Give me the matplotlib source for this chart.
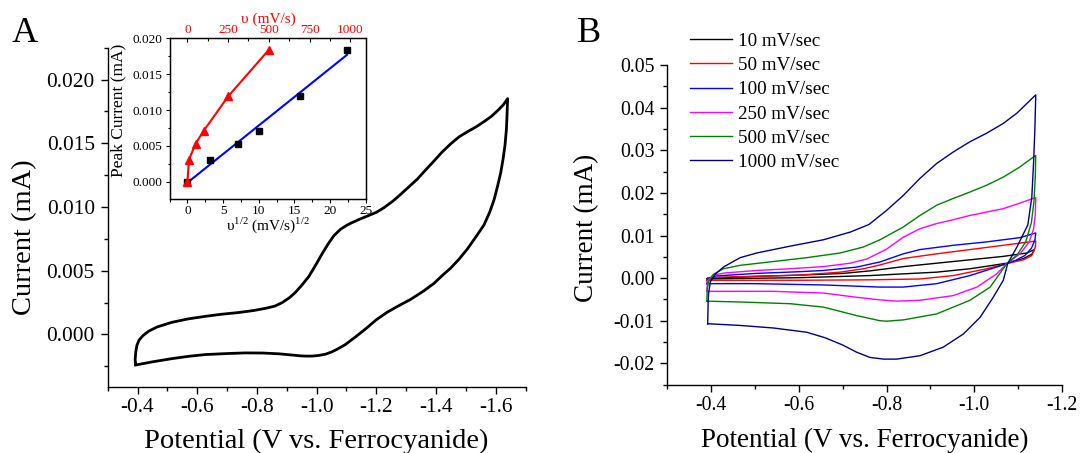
#!/usr/bin/env python3
import numpy as np
import matplotlib
matplotlib.use('Agg')
from matplotlib import pyplot as plt
from matplotlib.ticker import MultipleLocator, FormatStrFormatter

plt.rcParams['font.family'] = ['Liberation Serif', 'DejaVu Serif']
plt.rcParams['mathtext.fontset'] = 'custom'
plt.rcParams['mathtext.rm'] = 'Liberation Serif'
plt.rcParams['axes.unicode_minus'] = False

# Panel A: single CV loop (V vs. ferrocyanide, mA)
cv_a_e = [-0.394, -0.392, -0.394, -0.398, -0.405, -0.418, -0.437, -0.465, -0.515, -0.570,
          -0.627, -0.680, -0.739, -0.790, -0.829, -0.860, -0.885, -0.910, -0.929, -0.950,
          -0.974, -0.997, -1.019, -1.040, -1.058, -1.080, -1.100, -1.114, -1.140, -1.170,
          -1.200, -1.226, -1.255, -1.282, -1.310, -1.338, -1.365, -1.393, -1.420, -1.449,
          -1.477, -1.505, -1.535, -1.561, -1.585, -1.606, -1.625, -1.640,
          -1.638, -1.636, -1.631, -1.625, -1.617, -1.607, -1.595, -1.580, -1.561, -1.535,
          -1.505, -1.477, -1.449, -1.420, -1.393, -1.355, -1.315, -1.275, -1.237, -1.200,
          -1.165, -1.130, -1.096, -1.070, -1.050, -1.030, -1.007, -0.985, -0.963, -0.945,
          -0.920, -0.873, -0.820, -0.761, -0.700, -0.627, -0.570, -0.515, -0.450, -0.394]
cv_a_i = [-0.00235, -0.00200, -0.00140, -0.00085, -0.00045, -0.00010, 0.00025, 0.00058,
          0.00095, 0.00122, 0.00142, 0.00158, 0.00172, 0.00188, 0.00205, 0.00222, 0.00250,
          0.00290, 0.00330, 0.00385, 0.00455, 0.00545, 0.00635, 0.00715, 0.00775, 0.00825,
          0.00855, 0.00872, 0.00900, 0.00929, 0.00958, 0.00995, 0.01045, 0.01100, 0.01160,
          0.01220, 0.01290, 0.01360, 0.01430, 0.01495, 0.01550, 0.01590, 0.01630, 0.01670,
          0.01710, 0.01755, 0.01800, 0.01850,
          0.01720, 0.01610, 0.01480, 0.01380, 0.01270, 0.01170, 0.01060, 0.00960, 0.00860,
          0.00770, 0.00670, 0.00590, 0.00520, 0.00460, 0.00400, 0.00335, 0.00275, 0.00225,
          0.00175, 0.00115, 0.00045, -0.00020, -0.00080, -0.00115, -0.00138, -0.00155,
          -0.00165, -0.00170, -0.00170, -0.00168, -0.00162, -0.00152, -0.00146, -0.00145,
          -0.00150, -0.00158, -0.00172, -0.00190, -0.00215, -0.00240]

# Inset: peak current vs scan rate
scan_rate = np.array([0, 10, 50, 100, 250, 500])
peak_current = np.array([0.0, 0.0031, 0.0053, 0.0071, 0.0119, 0.0184])

# Panel B: CVs at several scan rates
e_10 = [-0.390, -0.392, -0.410, -0.500, -0.600, -0.700, -0.762, -0.838, -0.914, -0.990,
        -1.066, -1.120, -1.137, -1.131, -1.112, -1.074, -0.990, -0.914, -0.838, -0.762,
        -0.600, -0.450, -0.390]
i_10 = [-0.0002, 0.0000, 0.0001, 0.0004, 0.0007, 0.0011, 0.0017, 0.0027, 0.0035, 0.0043,
        0.0051, 0.0059, 0.0067, 0.0056, 0.0046, 0.0035, 0.0022, 0.0014, 0.0010, 0.0006,
        0.0001, -0.0001, -0.0002]

e_50 = [-0.390, -0.392, -0.450, -0.600, -0.694, -0.747, -0.785, -0.838, -0.914, -0.990,
        -1.066, -1.140, -1.139, -1.131, -1.112, -1.074, -1.028, -0.952, -0.876, -0.762,
        -0.600, -0.390]
i_50 = [-0.0005, 0.0001, 0.0003, 0.0007, 0.0014, 0.0022, 0.0031, 0.0046, 0.0057, 0.0067,
        0.0077, 0.0087, 0.0073, 0.0053, 0.0043, 0.0034, 0.0022, 0.0006, -0.0002, -0.0004,
        -0.0005, -0.0005]

e_100 = [-0.390, -0.392, -0.410, -0.500, -0.600, -0.656, -0.732, -0.785, -0.838, -0.876,
         -0.952, -1.028, -1.104, -1.140, -1.138, -1.130, -1.115, -1.095, -1.074, -1.051,
         -0.990, -0.914, -0.838, -0.785, -0.656, -0.500, -0.390]
i_100 = [-0.0013, -0.0002, 0.0005, 0.0011, 0.0015, 0.0018, 0.0026, 0.0038, 0.0057, 0.0067,
         0.0077, 0.0085, 0.0095, 0.0106, 0.0089, 0.0070, 0.0053, 0.0042, 0.0034, 0.0026,
         0.0006, -0.0013, -0.0021, -0.0021, -0.0016, -0.0013, -0.0013]

e_250 = [-0.390, -0.392, -0.405, -0.430, -0.504, -0.580, -0.656, -0.717, -0.755, -0.800,
         -0.838, -0.876, -0.914, -0.952, -0.990, -1.028, -1.066, -1.104, -1.140,
         -1.139, -1.135, -1.125, -1.105, -1.074, -1.051, -1.006, -0.952, -0.876, -0.823,
         -0.785, -0.732, -0.656, -0.542, -0.390]
i_250 = [-0.0031, -0.0005, 0.0007, 0.0012, 0.0018, 0.0022, 0.0027, 0.0035, 0.0045, 0.0068,
         0.0096, 0.0116, 0.0128, 0.0137, 0.0147, 0.0155, 0.0163, 0.0176, 0.0189,
         0.0150, 0.0115, 0.0085, 0.0058, 0.0034, 0.0010, -0.0021, -0.0041, -0.0052, -0.0054,
         -0.0051, -0.0045, -0.0035, -0.0031, -0.0031]

e_500 = [-0.390, -0.391, -0.395, -0.405, -0.428, -0.466, -0.542, -0.618, -0.694, -0.747,
         -0.785, -0.838, -0.876, -0.914, -0.952, -0.990, -1.028, -1.066, -1.104, -1.140,
         -1.139, -1.136, -1.130, -1.117, -1.098, -1.074, -1.036, -0.990, -0.914, -0.838,
         -0.800, -0.785, -0.732, -0.656, -0.580, -0.466, -0.390]
i_500 = [-0.0054, -0.0025, -0.0005, 0.0009, 0.0022, 0.0030, 0.0039, 0.0048, 0.0059, 0.0073,
         0.0090, 0.0120, 0.0147, 0.0171, 0.0187, 0.0202, 0.0218, 0.0237, 0.0261, 0.0288,
         0.0240, 0.0180, 0.0130, 0.0085, 0.0055, 0.0034, -0.0021, -0.0052, -0.0084, -0.0098,
         -0.0101, -0.0100, -0.0088, -0.0068, -0.0060, -0.0056, -0.0054]

e_1000 = [-0.392, -0.393, -0.394, -0.398, -0.409, -0.428, -0.466, -0.504, -0.580, -0.656,
          -0.717, -0.760, -0.800, -0.838, -0.876, -0.914, -0.952, -0.990, -1.028, -1.066,
          -1.097, -1.140,
          -1.138, -1.135, -1.131, -1.122, -1.097, -1.076, -1.066, -1.043, -1.013, -0.975,
          -0.929, -0.876, -0.823, -0.793, -0.762, -0.732, -0.700, -0.660, -0.618, -0.542,
          -0.466, -0.392]
i_1000 = [-0.0107, -0.0060, -0.0037, -0.0009, 0.0009, 0.0026, 0.0048, 0.0059, 0.0075, 0.0090,
          0.0108, 0.0126, 0.0159, 0.0194, 0.0234, 0.0269, 0.0296, 0.0320, 0.0340, 0.0363,
          0.0387, 0.0430,
          0.0350, 0.0270, 0.0190, 0.0125, 0.0073, 0.0034, -0.0005, -0.0045, -0.0092, -0.0131,
          -0.0162, -0.0182, -0.0190, -0.0190, -0.0186, -0.0174, -0.0157, -0.0140, -0.0127,
          -0.0117, -0.0111, -0.0107]

labels_b = ['10 mV/sec', '50 mV/sec', '100 mV/sec', '250 mV/sec', '500 mV/sec', '1000 mV/sec']
colors_b = ['#000000', '#FF0000', '#0000FF', '#FF00FF', '#008000', '#000080']


def style_axes(ax, size):
    ax.spines['top'].set_visible(False)
    ax.spines['right'].set_visible(False)
    for s in ('left', 'bottom'):
        ax.spines[s].set_linewidth(1.0)
    ax.tick_params(which='major', direction='out', length=5, width=1.0,
                   labelsize=size)
    ax.tick_params(which='minor', direction='out', length=3, width=1.0)
    ax.tick_params(axis='y', pad=4.3)
    ax.tick_params(axis='x', pad=3)


fig = plt.figure(figsize=(10.8, 4.53), dpi=100)

# ---- Panel A ----
axa = fig.add_axes([0.0997, 0.1464, 0.3869, 0.7483])
axa.plot(cv_a_e, cv_a_i, color='black', lw=2.0)
axa.set_xlim(-0.3, -1.7)
axa.set_ylim(-0.0041, 0.0225)
axa.set_xticks(np.arange(-0.4, -1.61, -0.2))
axa.xaxis.set_minor_locator(MultipleLocator(0.1))
axa.xaxis.set_major_formatter(FormatStrFormatter('%.1f'))
axa.set_yticks(np.arange(0, 0.0201, 0.005))
axa.yaxis.set_minor_locator(MultipleLocator(0.0025))
axa.yaxis.set_major_formatter(FormatStrFormatter('%.3f'))
style_axes(axa, 15.4)
axa.set_xlabel('Potential (V vs. Ferrocyanide)', fontsize=20.5)
axa.set_ylabel('Current (mA)', fontsize=20.5)
axa.xaxis.set_label_coords(0.5, -0.125)
axa.yaxis.set_label_coords(-0.169, 0.4416)

# inset
axi = fig.add_axes([0.157, 0.5607, 0.1817, 0.3547])
axt = axi.twiny()
sq = np.sqrt(scan_rate)
fit = np.polyfit(sq, peak_current, 1)
xf = np.array([0, sq.max()])
axi.plot(xf, np.polyval(fit, xf), color='#0000FF', lw=1.5, zorder=2)
axi.plot(sq, peak_current, 's', color='black', ms=5, zorder=3)
axt.plot(scan_rate, peak_current, '-^', color='#FF0000', lw=1.5, ms=6)
axi.set_xlim(-2.5, 25)
axt.set_xlim(-109.5, 1095)
axi.set_ylim(-0.0024, 0.020)
axi.set_xticks([0, 5, 10, 15, 20, 25])
axi.xaxis.set_minor_locator(MultipleLocator(2.5))
axi.set_yticks(np.arange(0, 0.0201, 0.005))
axi.yaxis.set_minor_locator(MultipleLocator(0.0025))
axi.yaxis.set_major_formatter(FormatStrFormatter('%.3f'))
axt.set_xticks([0, 250, 500, 750, 1000])
axt.xaxis.set_minor_locator(MultipleLocator(125))
for a in (axi, axt):
    for s in a.spines.values():
        s.set_linewidth(0.9)
axi.tick_params(which='major', direction='out', length=3, width=0.8, labelsize=9.5, pad=2)
axi.tick_params(axis='x', pad=1)
axi.tick_params(which='minor', direction='out', length=1.8, width=0.8)
axt.tick_params(which='major', direction='in', length=3, width=0.8, labelsize=9.5,
                pad=1.5, labelcolor='#FF0000')
axt.tick_params(which='minor', direction='in', length=1.8, width=0.8)
axi.set_ylabel('Peak Current (mA)', fontsize=12.5)
axi.set_xlabel('υ$^{1/2}$ (mV/s)$^{1/2}$', fontsize=11)
axt.set_xlabel('υ (mV/s)', fontsize=11, color='#FF0000')
axi.yaxis.set_label_coords(-0.219, 0.554)
axi.xaxis.set_label_coords(0.4995, -0.1)
axt.xaxis.set_label_coords(0.505, 1.097)

# ---- Panel B ----
axb = fig.add_axes([0.6179, 0.1508, 0.3655, 0.7057])
series_e = [e_10, e_50, e_100, e_250, e_500, e_1000]
series_i = [i_10, i_50, i_100, i_250, i_500, i_1000]
for e, i, lab, c in zip(series_e, series_i, labels_b, colors_b):
    axb.plot(e, i, color=c, lw=1.0, label=lab)
axb.set_xlim(-0.3, -1.2)
axb.set_ylim(-0.025, 0.05)
axb.set_xticks(np.arange(-0.4, -1.21, -0.2))
axb.xaxis.set_minor_locator(MultipleLocator(0.1))
axb.xaxis.set_major_formatter(FormatStrFormatter('%.1f'))
axb.set_yticks(np.arange(-0.02, 0.0501, 0.01))
axb.yaxis.set_minor_locator(MultipleLocator(0.005))
axb.yaxis.set_major_formatter(FormatStrFormatter('%.2f'))
style_axes(axb, 14.2)
axb.set_xlabel('Potential (V vs. Ferrocyanide)', fontsize=19.5)
axb.set_ylabel('Current (mA)', fontsize=19.5)
axb.xaxis.set_label_coords(0.499, -0.135)
axb.yaxis.set_label_coords(-0.174, 0.49)
axb.legend(loc='upper left', bbox_to_anchor=(0.6386, 0.929), bbox_transform=fig.transFigure,
           frameon=False, fontsize=13.8, handlelength=2.2, handletextpad=0.3,
           labelspacing=0.36, borderpad=0, borderaxespad=0)

fig.text(12 / 1080, 1 - 42 / 453, 'A', fontsize=26, va='baseline')
fig.text(577 / 1080, 1 - 42 / 453, 'B', fontsize=26, va='baseline')

fig.savefig('out.png', dpi=100)
